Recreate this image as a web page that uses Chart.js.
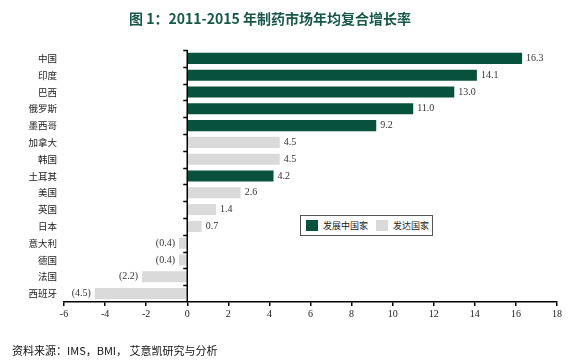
<!DOCTYPE html>
<html>
<head>
<meta charset="utf-8">
<script src="https://cdn.jsdelivr.net/npm/chart.js@4"></script>
<style>
    html, body { margin: 0; padding: 0; background: #fff; }
    #wrap { position: relative; width: 579px; height: 364px; }
    #title {
        position: absolute; left: 0; top: 8px; width: 540px; text-align: center;
        font: bold 14px "Noto Sans CJK SC", sans-serif; color: #17574a;
    }
    #legendBox {
        position: absolute; left: 300px; top: 215px; width: 131px; height: 19px;
        border: 1px solid #555; background: #fff;
        font: 9px "Noto Sans CJK SC", sans-serif; color: #222;
    }
    .item { position: absolute; top: 4px; line-height: 11px; white-space: nowrap; }
    .sw { display: inline-block; width: 12px; height: 11px; vertical-align: top; margin-right: 5px; }
    #source {
        position: absolute; left: 12px; top: 342px;
        font: 11px "Noto Sans CJK SC", monospace; color: #111;
    }
</style>
</head>
<body>
<div id="wrap">
    <canvas id="chart" width="579" height="364"></canvas>
    <div id="title">图 1：2011-2015 年制药市场年均复合增长率</div>
    <div id="legendBox"></div>
    <div id="source">资料来源：IMS，BMI， 艾意凯研究与分析</div>
</div>
<script>
const categories = ["中国", "印度", "巴西", "俄罗斯", "墨西哥", "加拿大", "韩国", "土耳其",
    "美国", "英国", "日本", "意大利", "德国", "法国", "西班牙"];
const growthRates = [16.3, 14.1, 13.0, 11.0, 9.2, 4.5, 4.5, 4.2, 2.6, 1.4, 0.7, -0.4, -0.4, -2.2, -4.5];
const groups = ["dev", "dev", "dev", "dev", "dev", "adv", "adv", "dev",
    "adv", "adv", "adv", "adv", "adv", "adv", "adv"];
const seriesNames = ["发展中国家", "发达国家"];
const xTicks = [-6, -4, -2, 0, 2, 4, 6, 8, 10, 12, 14, 16, 18];

const GREEN = "#08523d";
const GREY = "#dadada";

const developing = growthRates.map((v, i) => groups[i] === "dev" ? v : null);
const developed = growthRates.map((v, i) => groups[i] === "adv" ? v : null);

// HTML legend
const legendBox = document.getElementById("legendBox");
[[seriesNames[0], GREEN, 5], [seriesNames[1], GREY, 75]].forEach(([name, color, left]) => {
    const div = document.createElement("div");
    div.className = "item";
    div.style.left = left + "px";
    div.innerHTML = `<span class="sw" style="background:${color}"></span>${name}`;
    legendBox.appendChild(div);
});

const fmt = v => v < 0 ? "(" + Math.abs(v).toFixed(1) + ")" : v.toFixed(1);

// value labels next to each bar
const valueLabels = {
    id: "valueLabels",
    afterDatasetsDraw(chart) {
        const ctx = chart.ctx;
        ctx.save();
        ctx.font = "10px 'Liberation Serif', serif";
        ctx.fillStyle = "#333";
        ctx.textBaseline = "middle";
        chart.data.datasets.forEach((ds, di) => {
            chart.getDatasetMeta(di).data.forEach((bar, i) => {
                const v = ds.data[i];
                if (v === null) return;
                if (v >= 0) {
                    ctx.textAlign = "left";
                    ctx.fillText(fmt(v), bar.x + 4, bar.y);
                } else {
                    ctx.textAlign = "right";
                    ctx.fillText(fmt(v), bar.x - 4, bar.y);
                }
            });
        });
        ctx.restore();
    }
};

// vertical axis line at zero with small ticks between categories
const zeroAxis = {
    id: "zeroAxis",
    afterDatasetsDraw(chart) {
        const ctx = chart.ctx;
        const x0 = chart.scales.x.getPixelForValue(0);
        const ys = chart.scales.y;
        ctx.save();
        ctx.strokeStyle = "#000";
        ctx.lineWidth = 1.5;
        ctx.beginPath();
        ctx.moveTo(x0, chart.chartArea.top);
        ctx.lineTo(x0, chart.chartArea.bottom);
        for (let i = 0; i < categories.length; i++) {
            const y = Math.round(ys.getPixelForValue(i - 0.5)) + 0.5;
            ctx.moveTo(x0 - 4, y);
            ctx.lineTo(x0, y);
        }
        ctx.stroke();
        ctx.restore();
    }
};

new Chart(document.getElementById("chart"), {
    type: "bar",
    data: {
        labels: categories,
        datasets: [
            { label: seriesNames[0], data: developing, backgroundColor: GREEN, borderWidth: 0 },
            { label: seriesNames[1], data: developed, backgroundColor: GREY, borderWidth: 0 }
        ]
    },
    options: {
        indexAxis: "y",
        responsive: false,
        animation: false,
        layout: { padding: { top: 50, right: 22, bottom: 42, left: 8 } },
        datasets: { bar: { categoryPercentage: 1, barPercentage: 0.66 } },
        scales: {
            x: {
                min: -6, max: 18,
                afterBuildTicks: s => { s.ticks = xTicks.map(v => ({ value: v })); },
                grid: { drawOnChartArea: false, color: "#000", tickLength: 4, lineWidth: 1.5 },
                border: { color: "#000", width: 1.5 },
                ticks: { color: "#222", font: { family: "'Liberation Serif', serif", size: 10 }, padding: 2 }
            },
            y: {
                stacked: true,
                afterFit: s => { s.width = 56; },
                grid: { display: false, drawTicks: false },
                border: { display: false },
                ticks: { color: "#222", font: { family: "'Noto Sans CJK SC', sans-serif", size: 9.5 }, padding: 7 }
            }
        },
        plugins: {
            legend: { display: false },
            tooltip: { enabled: false },
            title: { display: false }
        }
    },
    plugins: [valueLabels, zeroAxis]
});
</script>
</body>
</html>
